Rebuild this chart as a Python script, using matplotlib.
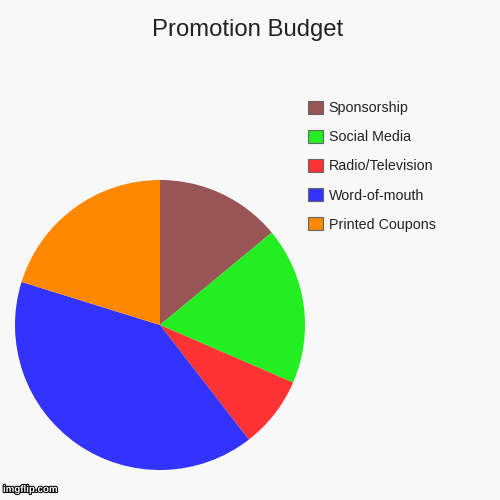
import matplotlib.pyplot as plt
import matplotlib.patheffects as pe

BG = "#f8f8f8"

labels = ["Sponsorship", "Social Media", "Radio/Television", "Word-of-mouth", "Printed Coupons"]
values = [14, 17.5, 8, 40.3, 20.2]
colors = ["#995555", "#22ee22", "#ff3333", "#3333ff", "#ff8800"]

plt.rcParams["font.family"] = ["Liberation Sans", "DejaVu Sans"]

fig = plt.figure(figsize=(5, 5), dpi=100)
fig.patch.set_facecolor(BG)

ax = fig.add_axes([0.03, 0.064 - 0.004, 0.58, 0.58])
ax.set_facecolor(BG)
wedges, _ = ax.pie(values, colors=colors, startangle=90, counterclock=False,
                   wedgeprops=dict(linewidth=0))
ax.set_xlim(-1, 1)
ax.set_ylim(-1, 1)
ax.set_aspect("equal")

fig.text(0.495, 0.94, "Promotion Budget", ha="center", va="center", fontsize=17.2, color="#222222")

for w in wedges:
    w.set_edgecolor("none")
handles = [plt.Rectangle((0, 0), 1, 1, facecolor=c, edgecolor="#666666", linewidth=0.8) for c in colors]
leg = fig.legend(handles, labels, loc="upper left", bbox_to_anchor=(0.616, 0.799),
                 frameon=False, fontsize=10.3, handlelength=1.05, handleheight=1.05,
                 labelspacing=1.025, handletextpad=0.4, borderpad=0, borderaxespad=0)
for t in leg.get_texts():
    t.set_color("#222222")

fig.text(0.006, 0.012, "imgflip.com", ha="left", va="bottom", fontsize=7, color="white",
         fontweight="bold", path_effects=[pe.withStroke(linewidth=1.5, foreground="black")])

plt.savefig("out.png", facecolor=BG, dpi=100)
plt.close()
